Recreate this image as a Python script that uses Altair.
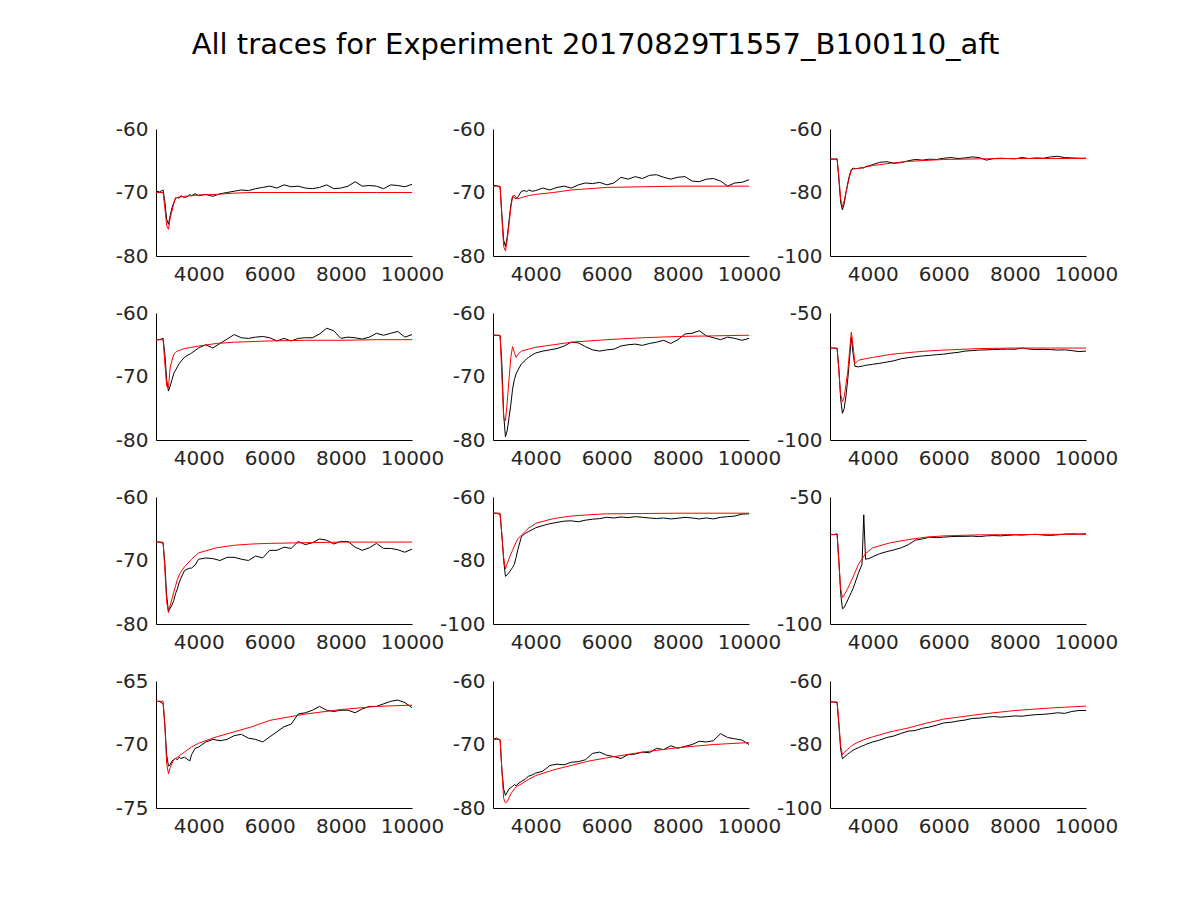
import altair as alt
import pandas as pd

TITLE = "All traces for Experiment 20170829T1557_B100110_aft"

# sample times for the recorded (black) traces
XB = [2800, 2900, 3000, 3050, 3100, 3150, 3200, 3250, 3300, 3350, 3400, 3450, 3500, 3600, 3700, 3750, 3800, 3900,
      4000, 4200, 4400, 4600, 4800, 5000, 5200, 5400, 5600, 5800, 6000, 6200, 6400, 6600, 6800, 7000, 7200, 7400,
      7600, 7800, 8000, 8200, 8400, 8600, 8800, 9000, 9200, 9400, 9600, 9800, 10000]
# sample times for the fitted (red) traces
XR = [2800, 3000, 3050, 3100, 3150, 3200, 3300, 3350, 3400, 3450, 3500, 3600, 3800, 4000, 4500, 5000, 5500, 6000,
      7000, 8000, 9000, 10000]

B1 = [-69.8, -69.9, -69.6, -71.5, -74.2, -75.0, -73.6, -72.4, -71.6, -70.9, -70.8, -70.9, -70.5, -70.8, -70.6, -70.3, -70.5, -70.2,
      -70.5, -70.3, -70.6, -70.2, -70.0, -69.8, -69.6, -69.7, -69.4, -69.2, -69.0, -69.3, -68.8, -69.1, -69.0, -69.3, -69.4, -69.2,
      -68.8, -69.4, -69.3, -69.0, -68.3, -69.0, -68.9, -69.0, -69.4, -68.8, -68.9, -69.1, -68.7]
B2 = [-68.9, -68.9, -69.2, -73.5, -77.5, -78.5, -77.0, -74.5, -72.0, -70.6, -70.8, -71.0, -70.7, -69.8, -69.7, -69.9, -69.6, -69.8,
      -69.7, -69.3, -69.6, -69.2, -69.0, -69.3, -68.8, -68.5, -68.6, -68.4, -68.8, -68.5, -67.6, -67.9, -67.5, -67.8, -67.3, -67.2,
      -67.6, -67.9, -67.6, -67.5, -68.2, -68.3, -67.9, -67.8, -68.2, -69.0, -68.5, -68.4, -68.0]
B3 = [-69.5, -69.5, -69.4, -76.0, -83.0, -85.5, -83.5, -80.0, -77.0, -74.5, -72.8, -72.3, -72.5, -72.4, -72.2, -72.3, -71.8, -71.6,
      -71.2, -70.5, -70.3, -70.8, -70.6, -70.0, -69.6, -69.8, -69.5, -69.6, -69.2, -69.0, -69.3, -69.1, -68.8, -69.0, -69.8, -69.3,
      -69.2, -69.3, -69.4, -69.0, -69.3, -69.1, -69.2, -68.8, -68.6, -69.0, -69.1, -69.2, -69.2]
B4 = [-64.2, -64.2, -64.0, -66.5, -70.5, -72.3, -71.5, -70.5, -69.5, -69.0, -68.5, -68.0, -67.6, -67.0, -66.6, -66.5, -66.3, -65.9,
      -65.5, -65.0, -65.5, -64.8, -64.1, -63.4, -63.9, -64.0, -63.8, -63.7, -63.9, -64.4, -64.0, -64.4, -64.0, -63.9, -63.9, -63.3,
      -62.4, -62.8, -64.0, -63.8, -63.9, -64.1, -63.8, -63.2, -63.5, -63.2, -62.9, -63.8, -63.4]
B5 = [-63.5, -63.5, -63.6, -68.0, -76.0, -79.5, -78.5, -76.5, -74.5, -72.0, -70.5, -69.6, -69.0, -68.0, -67.5, -67.2, -67.0, -66.6,
      -66.3, -66.0, -65.8, -65.6, -65.2, -64.6, -64.7, -65.3, -65.8, -66.0, -65.8, -65.7, -65.2, -65.0, -64.9, -65.1, -64.8, -64.6,
      -64.3, -64.8, -64.2, -63.3, -63.2, -62.8, -63.6, -63.9, -64.2, -63.8, -64.0, -64.3, -64.0]
B6 = [-63.8, -63.8, -64.0, -72.0, -84.0, -89.5, -87.5, -82.5, -76.0, -68.0, -59.5, -66.0, -71.0, -71.2, -70.9, -70.8, -70.6, -70.4,
      -70.2, -69.8, -69.3, -68.8, -68.0, -67.6, -67.2, -66.9, -66.7, -66.4, -66.2, -65.8, -65.5, -65.0, -64.8, -64.6, -64.5, -64.4,
      -64.3, -64.2, -64.3, -63.8, -64.2, -64.4, -64.3, -64.4, -64.6, -64.5, -64.8, -65.2, -65.0]
B7 = [-67.1, -67.1, -67.3, -70.5, -75.5, -78.0, -77.5, -77.0, -76.3, -75.2, -74.5, -73.5, -72.8, -71.6, -71.3, -71.2, -71.2, -70.7,
      -69.8, -69.6, -69.7, -70.0, -69.5, -69.5, -69.8, -70.0, -69.3, -69.6, -68.4, -68.4, -67.9, -68.1, -67.0, -67.5, -67.2, -66.6,
      -66.8, -67.4, -67.0, -67.0, -67.9, -68.4, -68.0, -67.3, -68.1, -68.1, -68.3, -68.7, -68.2]
B8 = [-65.1, -65.1, -65.5, -72.0, -80.0, -85.0, -84.5, -83.8, -83.0, -82.2, -81.2, -79.0, -76.5, -72.5, -71.5, -71.2, -70.9, -70.3,
      -69.7, -69.0, -68.4, -68.0, -67.6, -67.5, -67.8, -67.3, -67.0, -66.8, -66.4, -66.6, -66.3, -66.5, -66.2, -66.4, -66.6, -66.8,
      -66.6, -66.9, -66.7, -66.4, -66.6, -66.9, -66.6, -66.9, -66.4, -66.2, -66.0, -65.4, -65.3]
B9 = [-64.8, -64.8, -64.5, -75.0, -88.0, -94.0, -93.5, -92.0, -90.5, -89.0, -87.5, -86.0, -84.0, -80.0, -76.5, -57.0, -74.5, -74.2,
      -73.5, -72.3, -71.5, -70.8, -70.0, -68.8, -67.0, -66.5, -65.8, -66.0, -65.8, -65.6, -65.5, -65.5, -65.4, -65.6, -65.3, -65.2,
      -65.3, -65.1, -64.9, -65.0, -64.8, -64.7, -65.0, -65.1, -64.9, -64.6, -64.5, -64.6, -64.5]
B10 = [-66.6, -66.6, -66.8, -68.5, -70.8, -71.7, -71.6, -71.3, -71.2, -71.1, -71.2, -71.0, -71.1, -71.0, -71.2, -71.3, -70.8, -70.3,
       -70.2, -69.8, -69.6, -69.7, -69.6, -69.3, -69.2, -69.5, -69.6, -69.8, -69.4, -69.0, -68.6, -68.4, -67.6, -67.5, -67.3, -67.0,
       -67.3, -67.4, -67.3, -67.3, -67.5, -67.2, -67.0, -67.0, -66.8, -66.6, -66.5, -66.7, -67.1]
B11 = [-69.2, -69.0, -69.3, -74.0, -77.0, -78.0, -77.5, -77.0, -76.8, -76.6, -76.3, -76.5, -76.2, -75.8, -75.5, -75.2, -75.0, -74.8,
       -74.5, -74.2, -73.3, -73.1, -73.2, -72.8, -72.7, -72.4, -71.4, -71.2, -71.7, -71.9, -72.2, -71.6, -71.5, -71.2, -71.3, -70.6,
       -70.8, -70.2, -70.6, -70.3, -70.0, -69.5, -69.6, -69.4, -68.3, -68.9, -69.1, -69.3, -70.0]
B12 = [-66.6, -66.6, -66.8, -74.0, -81.5, -84.5, -84.0, -83.5, -83.0, -82.6, -82.2, -81.8, -81.5, -81.0, -80.5, -80.3, -80.0, -79.6,
       -79.2, -78.6, -77.8, -77.3, -76.5, -75.8, -75.6, -74.9, -74.5, -73.9, -73.2, -73.0, -72.6, -72.3, -71.8, -71.7, -71.4, -71.2,
       -71.4, -71.2, -71.0, -71.1, -70.8, -70.6, -70.5, -70.3, -70.0, -70.2, -69.6, -69.3, -69.3]

R1 = [-70.0, -70.0, -72.5, -75.2, -75.8, -74.0, -71.8, -70.8, -70.8, -70.7, -70.7, -70.6, -70.5, -70.4, -70.3, -70.1, -70.0, -70.0, -70.0, -70.0, -70.0, -70.0]
R2 = [-69.0, -69.0, -74.0, -78.5, -79.2, -77.5, -72.5, -70.6, -70.4, -70.8, -71.0, -70.8, -70.5, -70.3, -70.0, -69.6, -69.4, -69.2, -69.1, -69.0, -69.0, -69.0]
R3 = [-69.5, -69.5, -75.0, -82.0, -84.5, -82.5, -77.5, -75.0, -73.0, -72.6, -72.5, -72.4, -72.0, -71.5, -70.8, -70.2, -69.9, -69.6, -69.4, -69.3, -69.3, -69.3]
R4 = [-64.2, -64.2, -68.0, -71.5, -71.8, -68.5, -66.5, -66.2, -66.0, -65.9, -65.8, -65.6, -65.4, -65.2, -64.8, -64.6, -64.5, -64.4, -64.3, -64.3, -64.2, -64.2]
R5 = [-63.5, -63.5, -70.0, -76.5, -77.0, -74.0, -67.0, -65.3, -66.2, -67.0, -66.5, -66.0, -65.7, -65.4, -65.0, -64.6, -64.4, -64.2, -63.9, -63.7, -63.6, -63.5]
R6 = [-63.8, -63.8, -73.0, -82.0, -85.0, -83.0, -73.0, -65.0, -57.5, -63.0, -70.0, -68.6, -68.0, -67.5, -66.3, -65.6, -65.0, -64.6, -64.0, -63.8, -63.8, -63.8]
R7 = [-67.1, -67.1, -71.5, -76.5, -78.2, -77.0, -75.0, -74.0, -73.0, -72.3, -71.8, -71.0, -69.8, -68.8, -68.0, -67.6, -67.4, -67.3, -67.2, -67.1, -67.1, -67.1]
R8 = [-65.1, -65.1, -72.0, -79.0, -82.7, -81.0, -78.0, -76.8, -75.5, -74.2, -73.2, -72.0, -69.8, -68.3, -66.8, -66.0, -65.6, -65.3, -65.2, -65.1, -65.1, -65.1]
R9 = [-64.8, -64.8, -76.0, -86.0, -89.5, -88.5, -86.0, -84.5, -83.0, -81.5, -79.8, -76.5, -72.3, -70.0, -68.0, -66.8, -65.8, -65.3, -64.9, -64.8, -64.7, -64.7]
R10 = [-66.6, -66.6, -68.5, -71.5, -72.3, -71.8, -71.2, -71.1, -71.0, -70.9, -70.8, -70.6, -70.2, -69.9, -69.4, -69.0, -68.6, -68.1, -67.6, -67.25, -67.0, -66.9]
R11 = [-69.2, -69.2, -74.0, -78.5, -79.2, -79.0, -77.8, -77.4, -77.0, -76.7, -76.5, -76.2, -75.5, -74.9, -74.0, -73.3, -72.6, -72.1, -71.2, -70.5, -70.0, -69.7]
R12 = [-66.6, -66.6, -73.0, -80.5, -83.2, -82.5, -81.5, -81.0, -80.5, -80.1, -79.8, -79.2, -78.3, -77.6, -76.0, -74.8, -73.3, -72.0, -70.5, -69.3, -68.5, -67.9]

BLACK = [B1, B2, B3, B4, B5, B6, B7, B8, B9, B10, B11, B12]
RED = [R1, R2, R3, R4, R5, R6, R7, R8, R9, R10, R11, R12]

Y_DOMAINS = [[-80, -60], [-80, -60], [-100, -60],
             [-80, -60], [-80, -60], [-100, -50],
             [-80, -60], [-100, -60], [-100, -50],
             [-75, -65], [-80, -60], [-100, -60]]
Y_TICKS = [[-80, -70, -60], [-80, -70, -60], [-100, -80, -60],
           [-80, -70, -60], [-80, -70, -60], [-100, -50],
           [-80, -70, -60], [-100, -80, -60], [-100, -50],
           [-75, -70, -65], [-80, -70, -60], [-100, -80, -60]]
X_TICKS = [4000, 6000, 8000, 10000]
X_DOMAIN = [2800, 10000]


def panel(i):
    df_b = pd.DataFrame({"t": XB, "v": BLACK[i]})
    df_r = pd.DataFrame({"t": XR, "v": RED[i]})
    x = alt.X("t:Q", scale=alt.Scale(domain=X_DOMAIN, nice=False, zero=False),
              axis=alt.Axis(values=X_TICKS, title=None, labelExpr="toString(datum.value)"))
    y = alt.Y("v:Q", scale=alt.Scale(domain=Y_DOMAINS[i], nice=False, zero=False),
              axis=alt.Axis(values=Y_TICKS[i], title=None, labelExpr="toString(datum.value)"))
    black = alt.Chart(df_b).mark_line(color="black", strokeWidth=1).encode(x=x, y=y)
    red = alt.Chart(df_r).mark_line(color="#ff0000", strokeWidth=1).encode(x=x, y=y)
    return alt.layer(black, red).properties(width=256, height=127)


chart = (
    alt.concat(*[panel(i) for i in range(12)], columns=3,
               spacing={"row": 57, "column": 81}, bounds="flush")
    .properties(
        title=alt.TitleParams(TITLE, fontSize=29, font="DejaVu Sans", fontWeight="normal", color="black",
                              anchor="middle", offset=59, dx=-21),
        padding={"left": 107, "top": 23, "right": 5, "bottom": 5},
        background="white",
    )
    .configure_view(stroke=None)
    .configure_axis(domainColor="black", domainWidth=1, ticks=False, grid=False,
                    labelFont="DejaVu Sans", labelFontSize=20, labelColor="#262626", labelPadding=8,
                    labelOverlap=False, labelFlush=False)
)

chart.save("out.html", embed_options={"renderer": "svg", "actions": False})
